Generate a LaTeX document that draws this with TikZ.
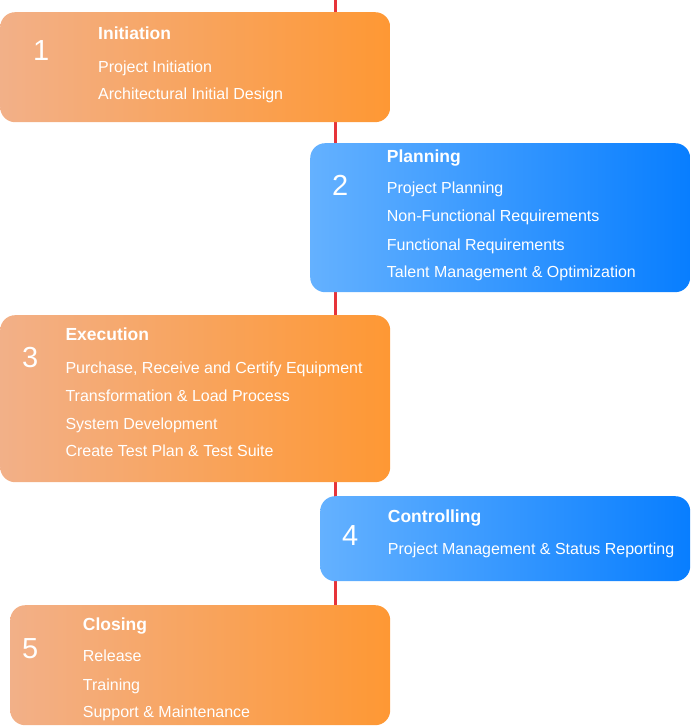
\documentclass[tikz,border=0pt]{standalone}
\usepackage{fontspec}
\setmainfont{Liberation Sans}
\usetikzlibrary{backgrounds}
\definecolor{orL}{RGB}{242,176,136}
\definecolor{orR}{RGB}{254,152,52}
\definecolor{blL}{RGB}{100,177,255}
\definecolor{blR}{RGB}{8,126,255}
\definecolor{lineRed}{RGB}{230,52,58}
\begin{document}
\begin{tikzpicture}[x=1pt,y=-1pt,
  box/.style={rounded corners=15pt, inner sep=0pt, draw=none, anchor=north west},
  orbox/.style={box, left color=orL, right color=orR},
  blbox/.style={box, left color=blL, right color=blR},
  num/.style={anchor=base west, inner sep=0pt, text=white, font=\fontsize{29}{32}\selectfont},
  ttl/.style={anchor=base west, inner sep=0pt, text=white, font=\fontsize{17.5}{20}\selectfont\bfseries},
  itm/.style={anchor=base west, inner sep=0pt, text=white, font=\fontsize{16}{19}\selectfont}]
\useasboundingbox (0,0) rectangle (693,727);
\coordinate (top) at (335,0);
% boxes
\node[orbox, minimum width=390pt, minimum height=110pt] (b1) at (0,12) {};
\node[blbox, minimum width=380pt, minimum height=149pt] (b2) at (310,143) {};
\node[orbox, minimum width=390pt, minimum height=167pt] (b3) at (0,315) {};
\node[blbox, minimum width=370pt, minimum height=85pt] (b4) at (320,496) {};
\node[orbox, minimum width=380pt, minimum height=120pt] (b5) at (10,605) {};
% timeline
\begin{scope}[on background layer]
\draw[lineRed, line width=3pt] (top) -- (top |- b5.north);
\end{scope}
% box 1
\node[num] (n1) at (33,61) {1};
\node[ttl] (t1) at (98,40) {Initiation};
\node[itm] (i11) at (98,72.3) {Project Initiation};
\node[itm] (i12) at (98,100) {Architectural Initial Design};
% box 2
\node[num] (n2) at (332,195.7) {2};
\node[ttl] (t2) at (386.7,162.3) {Planning};
\node[itm] (i21) at (386.7,194) {Project Planning};
\node[itm] (i22) at (386.7,222) {Non-Functional Requirements};
\node[itm] (i23) at (386.7,250) {Functional Requirements};
\node[itm] (i24) at (386.7,277.5) {Talent Management \& Optimization};
% box 3
\node[num] (n3) at (22,367.7) {3};
\node[ttl] (t3) at (65.3,340.7) {Execution};
\node[itm] (i31) at (65.3,373.3) {Purchase, Receive and Certify Equipment};
\node[itm] (i32) at (65.3,401) {Transformation \& Load Process};
\node[itm] (i33) at (65.3,429.3) {System Development};
\node[itm] (i34) at (65.3,456.7) {Create Test Plan \& Test Suite};
% box 4
\node[num] (n4) at (342,545.7) {4};
\node[ttl] (t4) at (387.7,522.7) {Controlling};
\node[itm] (i41) at (387.7,554) {Project Management \& Status Reporting};
% box 5
\node[num] (n5) at (22,658.3) {5};
\node[ttl] (t5) at (82.7,630) {Closing};
\node[itm] (i51) at (82.7,661.7) {Release};
\node[itm] (i52) at (82.7,690) {Training};
\node[itm] (i53) at (82.7,717.7) {Support \& Maintenance};
\end{tikzpicture}
\end{document}
